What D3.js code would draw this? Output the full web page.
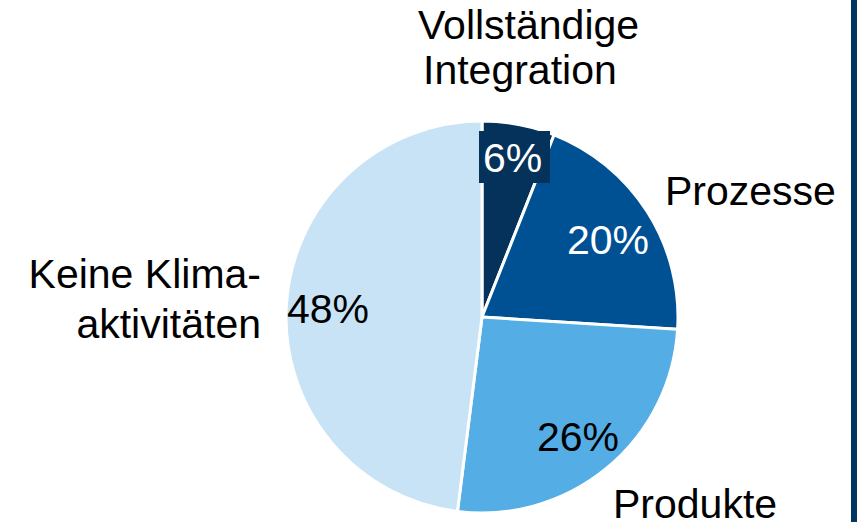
<!DOCTYPE html>
<html><head><meta charset="utf-8">
<script src="https://cdn.jsdelivr.net/npm/d3@7"></script>
<style>
html,body{margin:0;padding:0;background:#fff;}
svg{display:block;}
text{font-family:"Liberation Sans",Arial,sans-serif;font-size:41px;}
</style></head>
<body>
<svg id="c" width="858" height="522"></svg>
<script>
const categories = ["Vollständige Integration","Prozesse","Produkte","Keine Klimaaktivitäten"];
const values = [6, 20, 26, 48];
const valueLabels = ["6%","20%","26%","48%"];
const colors = ["#04325A","#005193","#54ADE4","#C7E3F5"];
const labelColors = ["#ffffff","#ffffff","#000000","#000000"];
const categoryLines = [["Vollständige","Integration"],["Prozesse"],["Produkte"],["Keine Klima-","aktivitäten"]];

const svg = d3.select("#c");
const cx = 482, cy = 317, r = 196;

// right edge bar
svg.append("rect").attr("x",851).attr("y",0).attr("width",6).attr("height",522).attr("fill","#02375F");

const pie = d3.pie().sort(null).value(d=>d)(values);
const arc = d3.arc().innerRadius(0).outerRadius(r);
const g = svg.append("g").attr("transform",`translate(${cx},${cy})`);
g.selectAll("path").data(pie).join("path")
  .attr("d",arc).attr("fill",(d,i)=>colors[i])
  .attr("stroke","#fff").attr("stroke-width",3).attr("stroke-linejoin","miter");

// value label positions (relative to center)
const valPos = [[1,-145],[85,-63],[55,134],[-195,6]];
// background box for the 6% label
g.append("rect").attr("x",-3).attr("y",-186).attr("width",71).attr("height",52).attr("fill",colors[0]);
g.selectAll("text.v").data(pie).join("text").attr("class","v")
  .attr("x",(d,i)=>valPos[i][0]).attr("y",(d,i)=>valPos[i][1])
  .attr("fill",(d,i)=>labelColors[i]).text((d,i)=>valueLabels[i]);

// category labels
const catPos = [
  {anchor:"start", lines:[[418,39],[423,84]]},
  {anchor:"start", lines:[[665,205]]},
  {anchor:"start", lines:[[613,518]]},
  {anchor:"end", lines:[[261,288],[261,338]]}
];
categoryLines.forEach((ls,i)=>{
  ls.forEach((t,j)=>{
    svg.append("text").attr("x",catPos[i].lines[j][0]).attr("y",catPos[i].lines[j][1])
      .attr("text-anchor",catPos[i].anchor).attr("fill","#000").text(t);
  });
});
</script>
</body></html>
